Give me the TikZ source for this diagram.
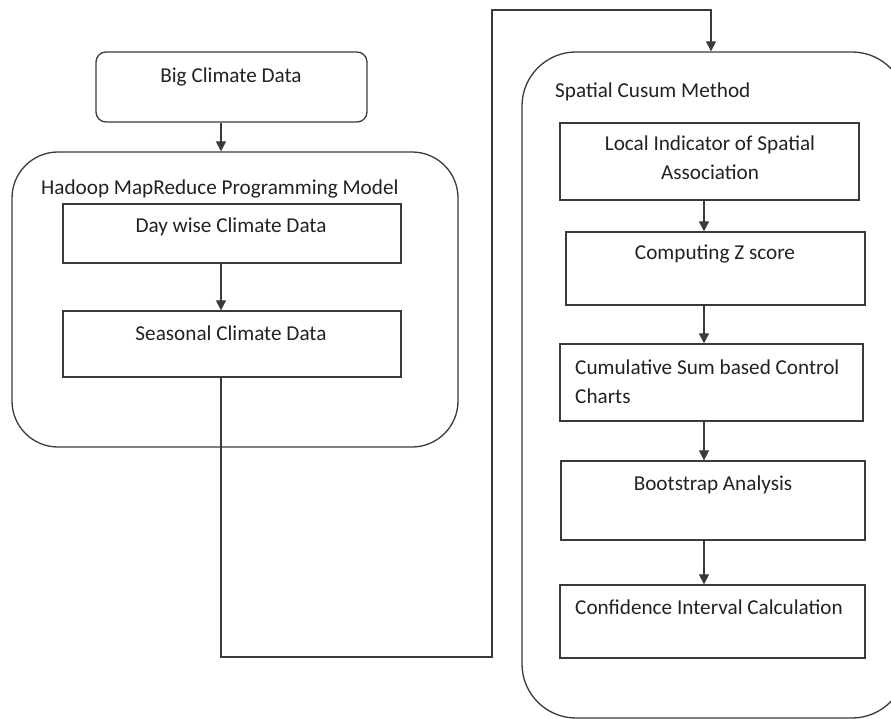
\documentclass[tikz,border=0pt]{standalone}
\usepackage{fontspec}
\setmainfont{Carlito}
\usetikzlibrary{arrows.meta}
\definecolor{ln}{HTML}{3A3A3A}
\definecolor{tx}{HTML}{222222}
\begin{document}
\begin{tikzpicture}[x=1pt,y=-1pt,
  every node/.style={font=\fontsize{21.2}{29}\selectfont, text=tx},
  box/.style={draw=ln, line width=1.3pt, inner sep=0pt},
  txt/.style={inner sep=0pt},
  arr/.style={draw=ln, line width=1.2pt, -{Triangle[length=10pt,width=10pt]}},
  ln/.style={draw=ln, line width=1.2pt}]
\useasboundingbox (0,0) rectangle (891,719);
\clip (0,0) rectangle (891,719);
% left side
\node[box, rounded corners=10pt, minimum width=271pt, minimum height=70pt] (big) at (231.5,87) {};
\node[txt, anchor=base] (bigt) at (231,83) {Big Climate Data};
\node[box, rounded corners=46pt, minimum width=446pt, minimum height=295pt] (hadoop) at (235,299.5) {};
\node[txt, anchor=base west] (hadoopt) at (41,195) {Hadoop MapReduce Programming Model};
\node[box, minimum width=338pt, minimum height=59pt] (day) at (232,233.5) {};
\node[txt, anchor=base] (dayt) at (231,233) {Day wise Climate Data};
\node[box, minimum width=338pt, minimum height=66pt] (seas) at (232,344) {};
\node[txt, anchor=base] (seast) at (231,340) {Seasonal Climate Data};
% right side
\node[box, rounded corners=54pt, minimum width=384pt, minimum height=666pt] (spatial) at (714,385) {};
\node[txt, anchor=base west] (spatialt) at (555,98) {Spatial Cusum Method};
\node[box, minimum width=299pt, minimum height=77pt] (lisa) at (709.5,161.5) {};
\node[txt, anchor=base, align=center] (lisat) at (710,180) {Local Indicator of Spatial\\Association};
\node[box, minimum width=299pt, minimum height=73pt] (z) at (715.5,268.5) {};
\node[txt, anchor=base] (zt) at (715,260) {Computing Z score};
\node[box, minimum width=303pt, minimum height=77pt] (cum) at (711.5,382.5) {};
\node[txt, anchor=base west, align=left] (cumt) at (575,403) {Cumulative Sum based Control\\Charts};
\node[box, minimum width=304pt, minimum height=79pt] (boot) at (713,500.5) {};
\node[txt, anchor=base] (boott) at (713,490) {Bootstrap Analysis};
\node[box, minimum width=305pt, minimum height=73pt] (conf) at (712.5,621.5) {};
\node[txt, anchor=base west] (conft) at (575,614) {Confidence Interval Calculation};
% connectors
\coordinate (lx) at (221,0);
\coordinate (rx) at (704,0);
\coordinate (b1) at (221,657);
\coordinate (b2) at (492,657);
\coordinate (b3) at (492,10);
\coordinate (b4) at (711,10);
\draw[arr] (big.south -| lx) -- (hadoop.north -| lx);
\draw[arr] (day.south -| lx) -- (seas.north -| lx);
\draw[arr] (seas.south -| b1) -- (b1) -- (b2) -- (b3) -- (b4) -- (spatial.north -| b4);
\draw[arr] (lisa.south -| rx) -- (z.north -| rx);
\draw[arr] (z.south -| rx) -- (cum.north -| rx);
\draw[arr] (cum.south -| rx) -- (boot.north -| rx);
\draw[arr] (boot.south -| rx) -- (conf.north -| rx);
\end{tikzpicture}
\end{document}
